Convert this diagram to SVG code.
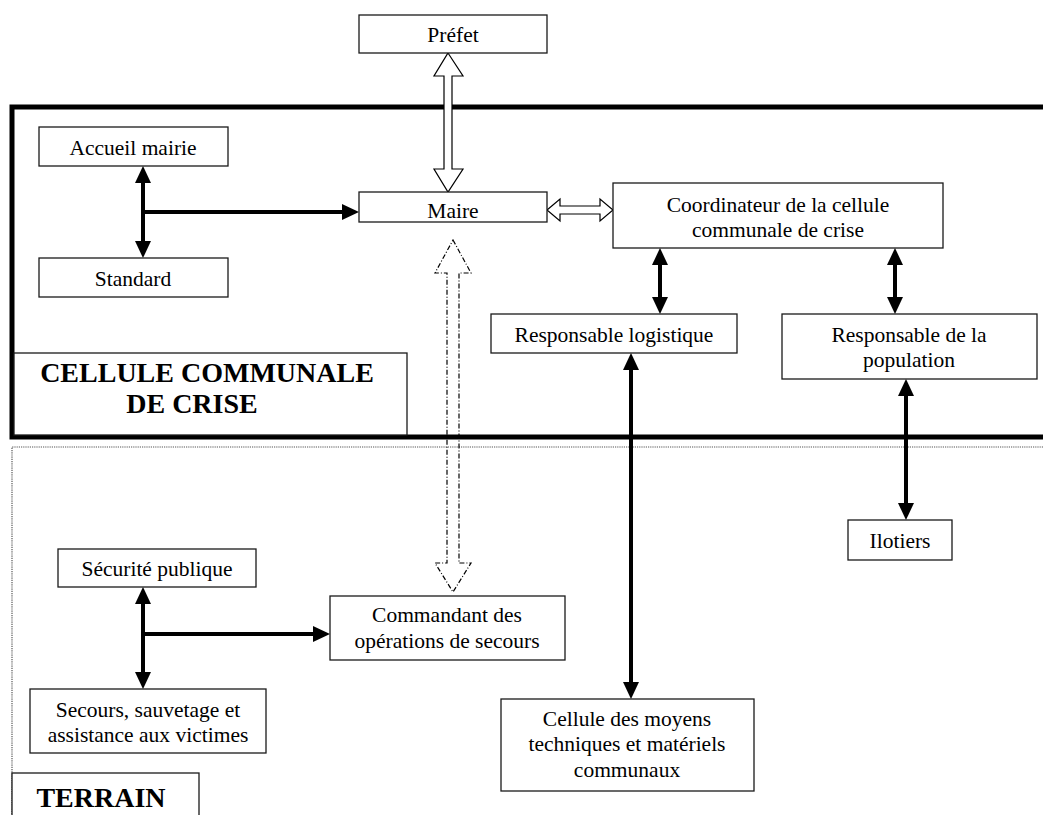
<svg xmlns="http://www.w3.org/2000/svg" width="1043" height="815" viewBox="0 0 1043 815">
<defs>
<style>
.box{fill:#fff;stroke:#1a1a1a;stroke-width:1.3}
.t{font-family:"Liberation Serif","Times New Roman",serif;font-size:21.5px;fill:#000;text-anchor:middle}
.tb{font-family:"Liberation Serif","Times New Roman",serif;font-size:28px;font-weight:bold;fill:#000;text-anchor:middle}
.ar{stroke:#000;stroke-width:4;fill:none;marker-end:url(#ah)}
.ar2{stroke:#000;stroke-width:4;fill:none;marker-start:url(#ah);marker-end:url(#ah)}
.hol{fill:#fff;stroke:#000;stroke-width:1.2}
</style>
<marker id="ah" markerUnits="userSpaceOnUse" viewBox="0 0 17 16" markerWidth="17" markerHeight="16" refX="12" refY="8" orient="auto-start-reverse">
<path d="M0,0 L17,8 L0,16 Z" fill="#000"/>
</marker>
</defs>
<rect width="1043" height="815" fill="#fff"/>

<g id="frames">
<path d="M1043,447 H12 V815" fill="none" stroke="#555" stroke-width="1.2" stroke-dasharray="1.2 1"/>
<path d="M1043,107 H12 V437 H1043" fill="none" stroke="#000" stroke-width="5"/>
</g>

<g id="cellule-label">
<rect class="box" x="14" y="353" width="393" height="82"/>
<text class="tb" x="207" y="382">CELLULE COMMUNALE</text>
<text class="tb" x="192" y="413">DE CRISE</text>
</g>

<g id="terrain-label">
<rect class="box" x="12" y="773" width="187" height="50"/>
<text class="tb" x="101" y="807">TERRAIN</text>
</g>

<g id="connectors">
<polygon class="hol" points="448,53 463,76 452,76 452,169 463,169 448,192 434,169 444,169 444,76 434,76"/>
<polygon class="hol" points="547,210 560,199 560,206 600,206 600,199 613,210 600,221 600,214 560,214 560,221"/>
<polygon points="453,240 471,273 459,273 459,563 471,563 453,592 435,563 447,563 447,273 435,273" fill="none" stroke="#000" stroke-width="1.2" stroke-dasharray="5 2 1 2"/>
<line class="ar2" x1="143" y1="171" x2="143" y2="253"/>
<line class="ar" x1="143" y1="212" x2="354" y2="212"/>
<line class="ar2" x1="660" y1="253" x2="660" y2="309"/>
<line class="ar2" x1="895" y1="253" x2="895" y2="309"/>
<line class="ar2" x1="906" y1="384" x2="906" y2="515"/>
<line class="ar2" x1="631" y1="358" x2="631" y2="694"/>
<line class="ar2" x1="143" y1="592" x2="143" y2="684"/>
<line class="ar" x1="143" y1="634" x2="325" y2="634"/>
</g>

<g id="prefet">
<rect class="box" x="359" y="15" width="188" height="38"/>
<text class="t" x="453" y="42">Préfet</text>
</g>
<g id="maire">
<rect class="box" x="359" y="192" width="188" height="30"/>
<text class="t" x="453" y="218">Maire</text>
</g>
<g id="accueil">
<rect class="box" x="39" y="127" width="189" height="39"/>
<text class="t" x="133" y="155">Accueil mairie</text>
</g>
<g id="standard">
<rect class="box" x="39" y="258" width="189" height="39"/>
<text class="t" x="133" y="286">Standard</text>
</g>
<g id="coordinateur">
<rect class="box" x="613" y="183" width="330" height="65"/>
<text class="t" x="778" y="212">Coordinateur de la cellule</text>
<text class="t" x="778" y="237">communale de crise</text>
</g>
<g id="logistique">
<rect class="box" x="491" y="314" width="246" height="39"/>
<text class="t" x="614" y="342">Responsable logistique</text>
</g>
<g id="population">
<rect class="box" x="782" y="314" width="255" height="65"/>
<text class="t" x="909" y="342">Responsable de la</text>
<text class="t" x="909" y="367">population</text>
</g>
<g id="ilotiers">
<rect class="box" x="848" y="520" width="104" height="40"/>
<text class="t" x="900" y="548">Ilotiers</text>
</g>
<g id="securite">
<rect class="box" x="58" y="549" width="198" height="38"/>
<text class="t" x="157" y="576">Sécurité publique</text>
</g>
<g id="commandant">
<rect class="box" x="330" y="596" width="235" height="64"/>
<text class="t" x="447" y="622">Commandant des</text>
<text class="t" x="447" y="648">opérations de secours</text>
</g>
<g id="secours">
<rect class="box" x="30" y="689" width="236" height="64"/>
<text class="t" x="148" y="717">Secours, sauvetage et</text>
<text class="t" x="148" y="742">assistance aux victimes</text>
</g>
<g id="moyens">
<rect class="box" x="501" y="699" width="253" height="92"/>
<text class="t" x="627" y="726">Cellule des moyens</text>
<text class="t" x="627" y="751">techniques et matériels</text>
<text class="t" x="627" y="777">communaux</text>
</g>
</svg>
